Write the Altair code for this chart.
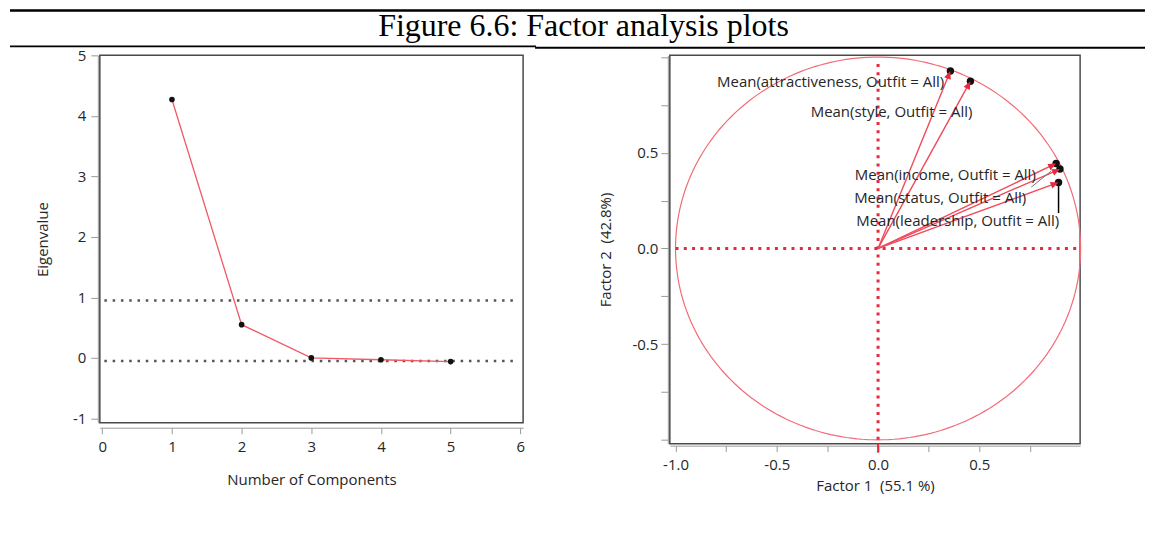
import altair as alt
import pandas as pd
import numpy as np

# ---------------- data ----------------
title_text = "Figure 6.6: Factor analysis plots"

components = [1, 2, 3, 4, 5]
eigenvalues = [4.27, 0.55, 0.0, -0.03, -0.06]
ref_levels = [0.95, -0.05]
ref_extent = [0.03, 5.95]
scree_ticks = [0, 1, 2, 3, 4, 5, 6]
eig_ticks = [-1, 0, 1, 2, 3, 4, 5]

variables = ["attractiveness", "style", "income", "status", "leadership"]
factor1 = [0.357, 0.456, 0.879, 0.898, 0.891]
factor2 = [0.927, 0.874, 0.444, 0.415, 0.345]
labels = ["Mean(%s, Outfit = All)" % v for v in variables]
loading_ticks = [-1.0, -0.75, -0.5, -0.25, 0.0, 0.25, 0.5, 0.75, 1.0]

# label placement (pixel offsets from each point) - styling, not data
label_offsets = {
    "attractiveness": (-120, 11),
    "style": (-79, 31),
    "income": (-111, 12),
    "status": (-120, 29),
    "leadership": (-101, 39),
}

FONT = "Open Sans"
TXT = "#262626"
RED = "#e8283c"
LINE_RED = "#f05a66"

# ---------------- left: scree plot ----------------
scree = pd.DataFrame({"comp": components, "eig": eigenvalues})
refs = pd.DataFrame({"eig": ref_levels, "comp": ref_extent[0], "comp2": ref_extent[1]})

neg_label = "datum.value < 0 ? '-' + format(abs(datum.value), 'd') : format(datum.value, 'd')"

xL = alt.X("comp:Q",
           scale=alt.Scale(domain=[-0.035, 6.04], nice=False, zero=False),
           axis=alt.Axis(values=scree_ticks, tickSize=6, offset=5, labelPadding=6,
                         titlePadding=18, labelExpr=neg_label),
           title="Number of Components")
yL = alt.Y("eig:Q",
           scale=alt.Scale(domain=[-1.07, 5.0], nice=False, zero=False),
           axis=alt.Axis(values=eig_ticks, tickSize=7, offset=2, labelPadding=5,
                         titlePadding=22, labelExpr=neg_label),
           title="Eigenvalue")

decor = pd.DataFrame({"a": [0]})
top_rule = alt.Chart(decor).mark_rule(color="black", strokeWidth=2.5).encode(
    x=alt.value(-90), x2=alt.value(1047), y=alt.value(-45))
bot_rule1 = alt.Chart(decor).mark_rule(color="black", strokeWidth=1.6).encode(
    x=alt.value(-90), x2=alt.value(437), y=alt.value(-9))
bot_rule2 = alt.Chart(decor).mark_rule(color="black", strokeWidth=2).encode(
    x=alt.value(436), x2=alt.value(1047), y=alt.value(-7.5))
title_mark = alt.Chart(decor).mark_text(
    text=title_text, font="Liberation Serif", fontSize=32, color="black",
    align="center", baseline="alphabetic").encode(
    x=alt.value(484.5), y=alt.value(-19))

ref_rules = alt.Chart(refs).mark_rule(color="#555555", strokeWidth=2.5,
                                      strokeDash=[2.5, 5.8]).encode(
    x=xL, x2="comp2:Q", y=yL)
scree_line = alt.Chart(scree).mark_line(color=LINE_RED, strokeWidth=1.3).encode(x=xL, y=yL)
scree_pts = alt.Chart(scree).mark_point(filled=True, color="#111111", size=32, opacity=1).encode(x=xL, y=yL)

left = alt.layer(top_rule, bot_rule1, bot_rule2, title_mark, ref_rules, scree_line,
                 scree_pts).properties(width=424, height=368)

# ---------------- right: loading plot ----------------
load = pd.DataFrame({"var": variables, "f1": factor1, "f2": factor2, "label": labels})
load["o1"] = 0.0
load["o2"] = 0.0
load["angle"] = 90 - np.degrees(np.arctan2(load["f2"], load["f1"]))

theta = np.linspace(0, 2 * np.pi, 241)
circle = pd.DataFrame({"f1": np.cos(theta), "f2": np.sin(theta), "i": np.arange(len(theta))})

hline = pd.DataFrame({"f1": [-1.0], "o1": [0.98], "f2": [0.0]})
vline = pd.DataFrame({"f1": [0.0], "f2": [-1.0], "o2": [0.97]})

fmt = "(datum.value < 0 ? '-' + format(abs(datum.value), '.1f') : format(datum.value, '.1f'))"
x_lab = "abs(datum.value % 0.5) < 1e-9 && datum.value < 0.9 ? " + fmt + " : ''"
y_lab = "abs(datum.value % 0.5) < 1e-9 && abs(datum.value) < 0.9 ? " + fmt + " : ''"

xR = alt.X("f1:Q",
           scale=alt.Scale(domain=[-1.028, 0.9975], nice=False, zero=False),
           axis=alt.Axis(values=loading_ticks, tickSize=6, offset=2, labelPadding=6,
                         titlePadding=6, labelExpr=x_lab),
           title="Factor 1\u00a0 (55.1 %)")
yR = alt.Y("f2:Q",
           scale=alt.Scale(domain=[-1.02, 1.009], nice=False, zero=False),
           axis=alt.Axis(values=loading_ticks, tickSize=7, offset=2, labelPadding=3,
                         titlePadding=19, labelExpr=y_lab),
           title="Factor 2\u00a0 (42.8%)")

circ = alt.Chart(circle).mark_line(color="#f26b78", strokeWidth=1.2).encode(
    x=xR, y=yR, order="i:Q")
h_dots = alt.Chart(hline).mark_rule(color=RED, strokeWidth=3, strokeDash=[3, 5.3]).encode(
    x=xR, x2="o1:Q", y=yR)
v_dots = alt.Chart(vline).mark_rule(color=RED, strokeWidth=3, strokeDash=[3, 5.3]).encode(
    x=xR, y=yR, y2="o2:Q")
zero_tick = alt.Chart(vline).mark_rule(color=RED, strokeWidth=2).encode(
    x=xR, y=alt.value(389), y2=alt.value(398))
vectors = alt.Chart(load).mark_rule(color="#f04a5a", strokeWidth=1.4).encode(
    x=xR, y=yR, x2="o1:Q", y2="o2:Q")
lead_black = alt.Chart(load).transform_filter(alt.datum.var == "leadership").mark_rule(
    color="black", strokeWidth=1.5).encode(x=xR, y=yR, y2=alt.value(158))
lead_grey = alt.Chart(decor).mark_rule(color="#777777", strokeWidth=1).encode(
    x=alt.value(362), y=alt.value(132), x2=alt.value(382), y2=alt.value(116))
dots = alt.Chart(load).mark_point(filled=True, color="#111111", size=55, opacity=1).encode(x=xR, y=yR)
heads = alt.Chart(load).mark_point(filled=True, color=RED, size=100, opacity=1,
                                   shape="M0,0L-0.7,1.6L0.7,1.6Z").encode(
    x=xR, y=yR, angle=alt.Angle("angle:Q", scale=None))

texts = []
for v in variables:
    dx, dy = label_offsets[v]
    texts.append(
        alt.Chart(load).transform_filter(alt.datum.var == v).mark_text(
            dx=dx, dy=dy, align="center", baseline="middle", font=FONT,
            fontSize=15, color=TXT).encode(x=xR, y=yR, text="label:N"))

right = alt.layer(circ, h_dots, v_dots, zero_tick, vectors, lead_grey, lead_black,
                  dots, heads, *texts).properties(width=411, height=389)

chart = alt.hconcat(
    left, right, spacing=147, bounds="flush",
).properties(
    padding={"left": 0, "top": 0, "right": 0, "bottom": 5}
).configure_view(
    stroke="#4a4a4a", strokeWidth=1.5
).configure_axis(
    grid=False, labelFont=FONT, labelFontSize=15, labelColor=TXT,
    titleFont=FONT, titleFontSize=15, titleFontWeight="normal", titleColor=TXT,
    tickColor="#999999", domainColor="#9a9a9a", labelFlush=False, labelOverlap=False
)

chart.save("out.html", embed_options={"renderer": "svg", "actions": False})
